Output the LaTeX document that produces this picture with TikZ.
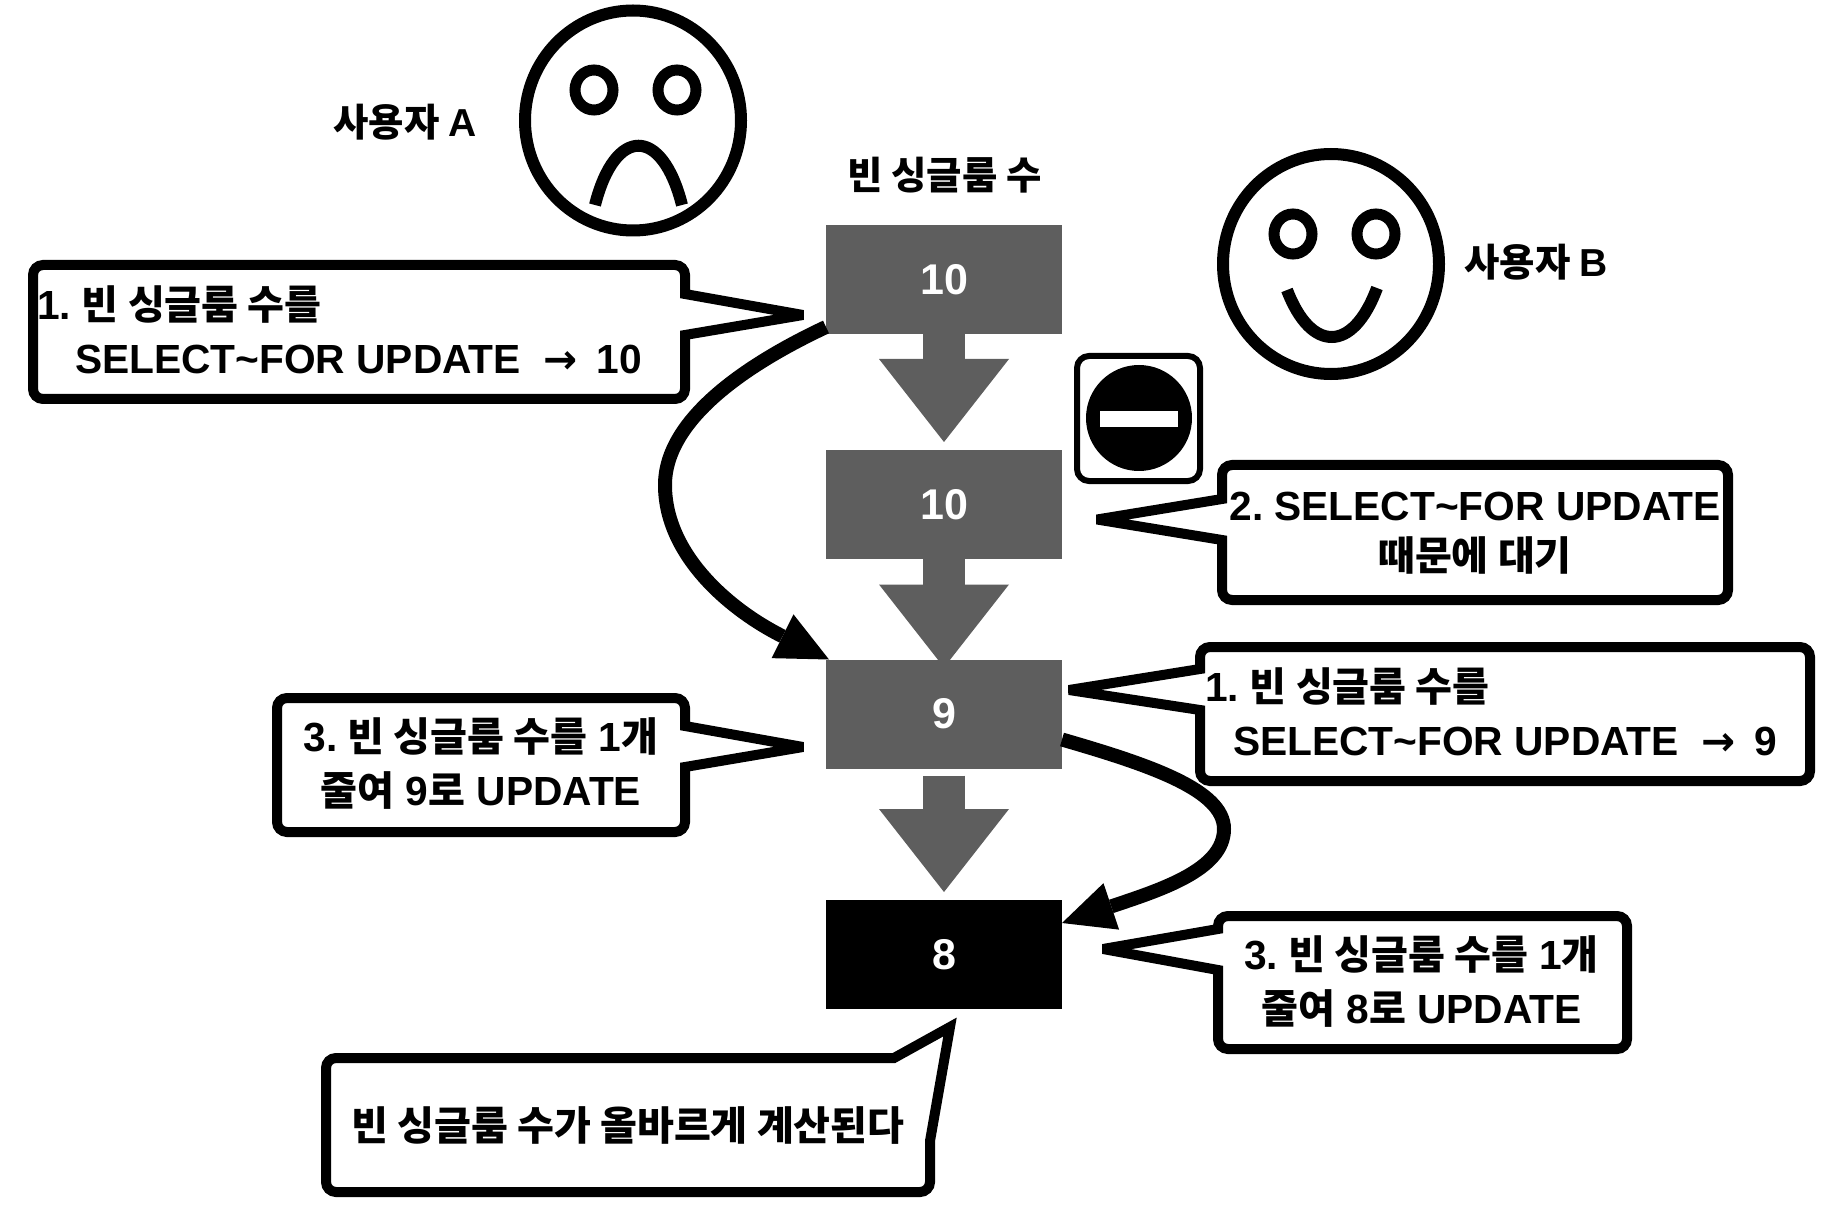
\documentclass[tikz,border=0pt]{standalone}
\usepackage{fontspec}
\setmainfont{Liberation Sans}
\newfontfamily\kofont[Scale=0.985]{Noto Sans CJK KR}
\newfontfamily\arrowfont{DejaVu Sans}
\usetikzlibrary{arrows.meta}
\definecolor{roomgray}{HTML}{5E5E5E}
\newcommand{\ko}[1]{{\kofont\bfseries #1}}
\newcommand{\toarrow}{{\arrowfont\bfseries →}}
\tikzset{
  base text/.style={inner sep=0pt, outer sep=0pt, font=\fontsize{40.7}{54}\selectfont\bfseries},
  head text/.style={inner sep=0pt, outer sep=0pt, font=\fontsize{39}{50}\selectfont\bfseries},
  roombox/.style={fill=roomgray, text=white, minimum width=236pt, minimum height=109pt, inner sep=0pt, outer sep=0pt, font=\fontsize{43}{50}\selectfont\bfseries},
  bubble/.style={draw=black, fill=white, line width=10pt, line join=miter, miter limit=3},
  faceline/.style={draw=black, line width=12pt},
  eyeline/.style={draw=black, line width=11pt},
  blockflow/.style={draw=roomgray, line width=42pt, -{Triangle[length=83pt, width=130pt, line width=0pt]}},
  swoop/.style={draw=black, line width=14pt, -{Triangle[length=52pt, width=49pt, line width=0pt]}}
}
\begin{document}
\begin{tikzpicture}[x=1pt, y=-1pt]
  \useasboundingbox (0,0) rectangle (1832,1222);

  % Room count boxes
  \node[head text] (title) at (944.5,175) {\ko{빈 싱글룸 수}};
  \node[roombox] (roomA) at (944,279.5) {10};
  \node[roombox] (roomB) at (944,504.5) {10};
  \node[roombox] (roomC) at (944,714) {9};
  \node[roombox, fill=black] (roomD) at (944,954.5) {8};

  % Block arrows
  \draw[blockflow] (roomA.south) -- ([yshift=8pt]roomB.north);
  \draw[blockflow] (roomB.south) -- ([yshift=-8pt]roomC.north);
  \draw[blockflow] ([yshift=-7pt]roomC.south) -- ([yshift=8pt]roomD.north);

  % Sad face
  \draw[faceline] (633,120.5) ellipse [x radius=108pt, y radius=110pt];
  \draw[eyeline] (594,90) ellipse [x radius=19pt, y radius=20pt];
  \draw[eyeline] (677,90) ellipse [x radius=19pt, y radius=20pt];
  \draw[faceline] (595,205) .. controls (615,126) and (662,126) .. (682,205);
  \node[head text] (userA) at (405,122) {\ko{사용자}\hspace{9pt}A};

  % Happy face
  \draw[faceline] (1331,264) ellipse [x radius=108pt, y radius=110pt];
  \draw[eyeline] (1293,234) ellipse [x radius=19pt, y radius=20pt];
  \draw[eyeline] (1376,234) ellipse [x radius=19pt, y radius=20pt];
  \draw[faceline] (1287,290) .. controls (1311,353) and (1353,353) .. (1377,288);
  \node[head text] (userB) at (1536,262) {\ko{사용자}\hspace{9pt}B};

  % Stop sign
  \draw[draw=black, fill=white, line width=6pt, rounded corners=12pt] (1077,356) rectangle (1200,481);
  \fill[black] (1139,418) circle [radius=53pt];
  \fill[white] (1100,411) rectangle (1178,427);

  % Swoop arrows
  \coordinate (bendA) at (665,485);
  \coordinate (bendC) at (1224,829);
  \draw[swoop] ([yshift=7pt]roomA.south west) .. controls (745,365) and (665,420) .. (bendA)
    .. controls (665,555) and (730,610) .. ([xshift=3pt]roomC.north west);
  \draw[swoop] ([yshift=29pt]roomC.south east) .. controls (1150,765) and (1224,790) .. (bendC)
    .. controls (1224,870) and (1160,890) .. ([yshift=-23pt]roomD.north east);

  % Bubbles on the left
  \draw[bubble] (685,294) -- (803,315) -- (685,335) [rounded corners=10pt] -- (685,399) -- (33,399) -- (33,265) -- (685,265) [sharp corners] -- cycle;
  \node[base text, anchor=west, align=left] (stepA) at (37,330) {1.\hspace{11pt}\ko{빈 싱글룸 수를}\\\hspace*{38pt}SELECT\char`~FOR UPDATE\ \ \toarrow\hspace{19pt}10};

  \draw[bubble] (685,726) -- (803,747) -- (685,767) [rounded corners=10pt] -- (685,832) -- (277,832) -- (277,698) -- (685,698) [sharp corners] -- cycle;
  \node[base text, align=center] (stepC) at (481,764) {3.\hspace{10pt}\ko{빈 싱글룸 수를} 1\ko{개}\\\ko{줄여} 9\ko{로} UPDATE};

  \draw[bubble] (894,1058) -- (950,1027) -- (930,1141) [rounded corners=10pt] -- (930,1192) -- (326,1192) -- (326,1058) [sharp corners] -- cycle;
  \node[base text] (stepE) at (628,1125) {\ko{빈 싱글룸 수가 올바르게 계산된다}};

  % Bubbles on the right
  \draw[bubble] (1222,499) -- (1097,519.5) -- (1222,540) [rounded corners=10pt] -- (1222,600) -- (1728,600) -- (1728,465) -- (1222,465) [sharp corners] -- cycle;
  \node[base text, align=center, font=\fontsize{40.7}{50}\selectfont\bfseries] (stepB) at (1475,533.5) {2.\hspace{11pt}SELECT\char`~FOR UPDATE\\\ko{때문에 대기}};

  \draw[bubble] (1200,669) -- (1069,690) -- (1200,710) [rounded corners=10pt] -- (1200,781) -- (1810,781) -- (1810,647) -- (1200,647) [sharp corners] -- cycle;
  \node[base text, anchor=west, align=left] (stepD) at (1205,712) {1.\hspace{11pt}\ko{빈 싱글룸 수를}\\\hspace*{28pt}SELECT\char`~FOR UPDATE\ \ \toarrow\hspace{19pt}9};

  \draw[bubble] (1218,929) -- (1103,949) -- (1218,970) [rounded corners=10pt] -- (1218,1049) -- (1627,1049) -- (1627,916) -- (1218,916) [sharp corners] -- cycle;
  \node[base text, align=center] (stepF) at (1421.5,982) {3.\hspace{10pt}\ko{빈 싱글룸 수를} 1\ko{개}\\\ko{줄여} 8\ko{로} UPDATE};
\end{tikzpicture}
\end{document}
